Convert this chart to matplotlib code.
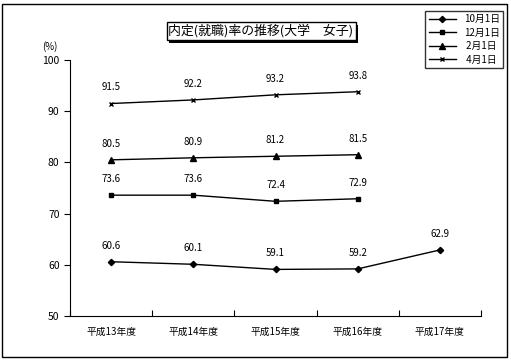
import matplotlib.pyplot as plt
from matplotlib.patches import Rectangle
import matplotlib.patheffects as pe

plt.rcParams['font.family'] = ['Noto Sans CJK JP', 'DejaVu Sans']

years = ['平成13年度', '平成14年度', '平成15年度', '平成16年度', '平成17年度']
oct1 = [60.6, 60.1, 59.1, 59.2, 62.9]
dec1 = [73.6, 73.6, 72.4, 72.9]
feb1 = [80.5, 80.9, 81.2, 81.5]
apr1 = [91.5, 92.2, 93.2, 93.8]

series = [
    ('10月1日', oct1, 'D', 3.2),
    ('12月1日', dec1, 's', 3.5),
    (' 2月1日', feb1, '^', 4.5),
    (' 4月1日', apr1, 'x', 3.5),
]

fig = plt.figure(figsize=(5.11, 3.62), dpi=100)
ax = fig.add_axes([70/511, 46/362, 411/511, 256/362])

for name, vals, mk, ms in series:
    xs = list(range(len(vals)))
    ax.plot(xs, vals, color='black', lw=1, marker=mk, ms=ms, mew=1, label=name)
    for x, v in zip(xs, vals):
        ax.annotate(f'{v:.1f}', (x, v), xytext=(0, 8), textcoords='offset points',
                    ha='center', va='bottom', fontsize=7)

ax.set_xlim(-0.5, 4.5)
ax.set_ylim(50, 100)
ax.set_yticks(range(50, 101, 10))
ax.set_xticks([i - 0.5 for i in range(6)], minor=False)
ax.set_xticklabels([])
ax.set_xticks(range(5), minor=True)
ax.set_xticklabels(years, minor=True, fontsize=7)
ax.tick_params(axis='x', which='major', direction='in', length=4)
ax.tick_params(axis='x', which='minor', length=0, pad=8)
ax.tick_params(axis='y', direction='out', length=4, labelsize=7.5)
for s in ['top', 'right']:
    ax.spines[s].set_visible(False)

fig.text(50/511, 1 - 47/362, '(%)', fontsize=7, ha='center', va='center')

t = fig.text(261/511, 1 - 31/362, '内定(就職)率の推移(大学　女子)', fontsize=9.3,
             ha='center', va='center',
             bbox=dict(boxstyle='square,pad=0.15', fc='white', ec='black', lw=1))
t.get_bbox_patch().set_path_effects([
    pe.SimplePatchShadow(offset=(2, -2), shadow_rgbFace='black', alpha=1),
    pe.Normal()])

leg = fig.legend(loc='upper right', bbox_to_anchor=(508/511, 1 - 6/362),
                 fontsize=7, frameon=True, fancybox=False, edgecolor='black',
                 handlelength=2.8, borderpad=0.35, labelspacing=0.35)
leg.get_frame().set_linewidth(1)

fig.patches.append(Rectangle((2/511, 5/362), 505/511, 353/362, transform=fig.transFigure,
                             fill=False, ec='black', lw=1))

fig.savefig('out.png', dpi=100)
